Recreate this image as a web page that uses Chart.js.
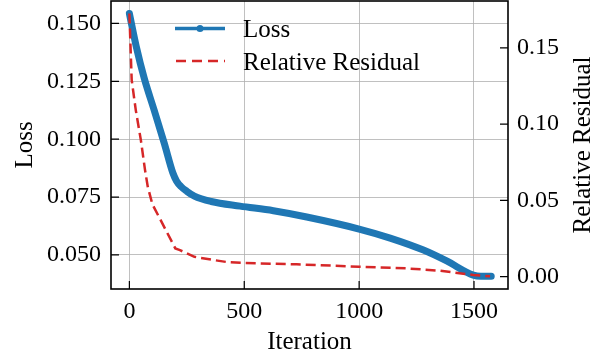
<!DOCTYPE html>
<html>
<head>
<meta charset="utf-8">
<title>Loss and Relative Residual</title>
<script src="https://cdn.jsdelivr.net/npm/chart.js@4"></script>
<style>
  html, body { margin: 0; padding: 0; background: #fff; }
  #wrap { width: 602px; height: 360px; }
</style>
</head>
<body>
<div id="wrap"><canvas id="lossChart" width="602" height="360"></canvas></div>
<script>
// values
const lossIter = [0, 30, 65, 109, 152, 189, 205, 225, 250, 283, 356, 482, 627, 772, 1000, 1135, 1280, 1381, 1497, 1530, 1575];
const lossVals = [0.1543, 0.1400, 0.1262, 0.1122, 0.0982, 0.0855, 0.0820, 0.0795, 0.0775, 0.0754, 0.0731, 0.0711, 0.0691, 0.0664, 0.0612, 0.0573, 0.0521, 0.0474, 0.0413, 0.0408, 0.0408];

const resIter = [0, 10, 28, 50, 68, 80, 100, 200, 220, 283, 366, 428, 500, 728, 1000, 1207, 1352, 1497, 1570];
const resVals = [0.1725, 0.129, 0.109, 0.0895, 0.070, 0.059, 0.0475, 0.0185, 0.0174, 0.0130, 0.0109, 0.0095, 0.0089, 0.0081, 0.0065, 0.0054, 0.0039, 0.0011, 0.0002];

const iterTicks = [0, 500, 1000, 1500];
const lossTicks = [0.05, 0.075, 0.1, 0.125, 0.15];
const resTicks = [0, 0.05, 0.1, 0.15];

const BLUE = '#1f77b4';
const RED = '#d62728';
const FONT = 'Liberation Serif';
const tickFont = { family: FONT, size: 24 };

Chart.defaults.font.family = FONT;
Chart.defaults.color = '#000';

const toPoints = (xs, ys) => xs.map((x, i) => ({ x: x, y: ys[i] }));
const fixTicks = list => scale => { scale.ticks = list.map(v => ({ value: v })); };

// inward tick marks, black frame, legend and axis titles (matplotlib look)
const decorations = {
    id: 'decorations',
    afterDatasetsDraw(chart) {
        const ctx = chart.ctx;
        const { left, right, top, bottom } = chart.chartArea;
        const { x, y, y1 } = chart.scales;
        ctx.save();
        ctx.strokeStyle = '#000';
        ctx.lineWidth = 1.2;
        ctx.beginPath();
        iterTicks.forEach(v => {
            const px = x.getPixelForValue(v);
            ctx.moveTo(px, bottom); ctx.lineTo(px, bottom - 8);
        });
        lossTicks.forEach(v => {
            const py = y.getPixelForValue(v);
            ctx.moveTo(left, py); ctx.lineTo(left + 8, py);
        });
        resTicks.forEach(v => {
            const py = y1.getPixelForValue(v);
            ctx.moveTo(right, py); ctx.lineTo(right - 8, py);
        });
        ctx.stroke();
        ctx.lineWidth = 1.6;
        ctx.strokeRect(left, top, right - left, bottom - top);
        ctx.restore();
    },
    afterDraw(chart) {
        const ctx = chart.ctx;
        const { left, right, top, bottom } = chart.chartArea;
        const midY = (top + bottom) / 2;
        ctx.save();
        ctx.fillStyle = '#000';
        ctx.font = '25px "' + FONT + '"';
        ctx.textAlign = 'center';
        ctx.textBaseline = 'alphabetic';
        ctx.fillText('Iteration', (left + right) / 2, 349);

        ctx.save();
        ctx.translate(31.5, midY);
        ctx.rotate(-Math.PI / 2);
        ctx.fillText('Loss', 0, 0);
        ctx.restore();

        ctx.save();
        ctx.translate(590, midY);
        ctx.rotate(-Math.PI / 2);
        ctx.fillText('Relative Residual', 0, 0);
        ctx.restore();

        // legend
        ctx.lineCap = 'butt';
        ctx.strokeStyle = BLUE;
        ctx.lineWidth = 3.5;
        ctx.beginPath();
        ctx.moveTo(175, 28.5); ctx.lineTo(225, 28.5);
        ctx.stroke();
        ctx.fillStyle = BLUE;
        ctx.beginPath();
        ctx.arc(200, 28.5, 3.5, 0, Math.PI * 2);
        ctx.fill();

        ctx.strokeStyle = RED;
        ctx.lineWidth = 2.5;
        ctx.setLineDash([10, 6]);
        ctx.beginPath();
        ctx.moveTo(176, 61); ctx.lineTo(225, 61);
        ctx.stroke();
        ctx.setLineDash([]);

        ctx.fillStyle = '#000';
        ctx.textAlign = 'left';
        ctx.fillText('Loss', 243, 37);
        ctx.fillText('Relative Residual', 243, 70);
        ctx.restore();
    }
};

new Chart(document.getElementById('lossChart'), {
    type: 'line',
    data: {
        datasets: [{
            label: 'Loss',
            data: toPoints(lossIter, lossVals),
            yAxisID: 'y',
            borderColor: BLUE,
            borderWidth: 7,
            borderCapStyle: 'round',
            borderJoinStyle: 'round',
            pointRadius: 0,
            cubicInterpolationMode: 'monotone',
            order: 1
        }, {
            label: 'Relative Residual',
            data: toPoints(resIter, resVals),
            yAxisID: 'y1',
            borderColor: RED,
            borderWidth: 2.5,
            borderDash: [10, 5],
            pointRadius: 0,
            tension: 0,
            order: 0
        }]
    },
    options: {
        responsive: false,
        animation: false,
        layout: { padding: { top: 1 } },
        plugins: {
            legend: { display: false },
            tooltip: { enabled: false }
        },
        scales: {
            x: {
                type: 'linear',
                min: -80,
                max: 1648,
                afterBuildTicks: fixTicks(iterTicks),
                ticks: { font: tickFont, color: '#000', padding: 8, maxRotation: 0, autoSkip: false,
                         callback: v => String(v) },
                grid: { color: '#b0b0b0', lineWidth: 0.8, drawTicks: false },
                border: { display: false },
                afterFit: s => { s.height = 71; s.paddingLeft = 0; s.paddingRight = 0; }
            },
            y: {
                position: 'left',
                min: 0.0353,
                max: 0.1597,
                afterBuildTicks: fixTicks(lossTicks),
                ticks: { font: tickFont, color: '#000', padding: 10, autoSkip: false,
                         callback: v => v.toFixed(3) },
                grid: { color: '#b0b0b0', lineWidth: 0.8, drawTicks: false },
                border: { display: false },
                afterFit: s => { s.width = 111; s.paddingTop = 0; s.paddingBottom = 0; }
            },
            y1: {
                position: 'right',
                min: -0.0081,
                max: 0.1807,
                afterBuildTicks: fixTicks(resTicks),
                ticks: { font: tickFont, color: '#000', padding: 9, autoSkip: false,
                         callback: v => v.toFixed(2) },
                grid: { display: false, drawTicks: false },
                border: { display: false },
                afterFit: s => { s.width = 94; s.paddingTop = 0; s.paddingBottom = 0; }
            }
        }
    },
    plugins: [decorations]
});
</script>
</body>
</html>
